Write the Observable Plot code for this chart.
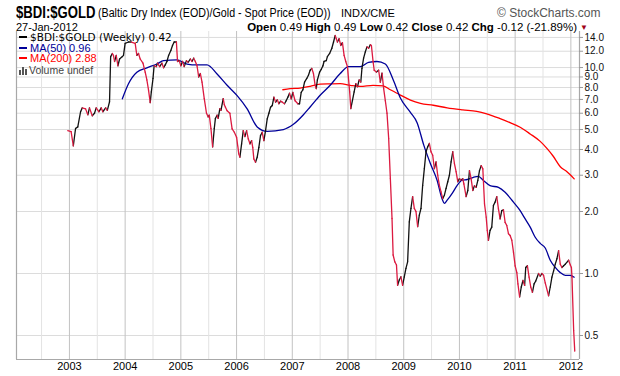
<!DOCTYPE html>
<html>
<head>
<meta charset="utf-8">
<script src="https://cdn.jsdelivr.net/npm/d3@7"></script>
<script src="https://cdn.jsdelivr.net/npm/@observablehq/plot@0.6"></script>
<style>
  html, body { margin: 0; padding: 0; background: #fff; }
  #wrap { position: relative; width: 620px; height: 376px; overflow: hidden; font-family: "Liberation Sans", Arial, sans-serif; color: #000; }
  .abs { position: absolute; white-space: nowrap; }
  .sym { font-weight: bold; font-size: 16px; line-height: 18px; display: block; transform: scaleX(0.82); transform-origin: left center; }
  .desc { font-size: 12px; line-height: 14px; display: block; transform: scaleX(0.89); transform-origin: left center; }
  .leg { font-size: 10.5px; line-height: 10px; height: 10px; }
  .dash { display: inline-block; width: 8px; height: 2px; vertical-align: middle; margin-right: 3px; position: relative; top: -1px; }
</style>
</head>
<body>
<div id="wrap">
  <div id="chart"></div>
  <div class="abs" style="left:16px;top:4px;height:18px;font-size:16px;line-height:18px;"><span class="sym">$BDI:$GOLD</span></div>
  <div class="abs" style="left:98px;top:6px;height:14px;font-size:12px;line-height:14px;"><span class="desc">(Baltic Dry Index (EOD)/Gold - Spot Price (EOD))</span></div>
  <div class="abs" style="left:341px;top:6px;font-size:11px;line-height:14px;height:14px;">INDX/CME</div>
  <div class="abs" style="left:497px;top:6px;font-size:12px;line-height:14px;height:14px;color:#555;">© StockCharts.com</div>
  <div class="abs" style="left:16px;top:21.5px;font-size:11px;line-height:10px;height:10px;">27-Jan-2012</div>
  <div class="abs" style="right:43px;top:21.5px;font-size:11.5px;line-height:10px;height:10px;"><b>Open</b> 0.49 <b>High</b> 0.49 <b>Low</b> 0.42 <b>Close</b> 0.42 <b>Chg</b> -0.12 (-21.89%)</div>
  <div class="abs" style="left:580px;top:23px;font-size:8px;line-height:9px;height:9px;color:#a00018;">▼</div>
  <div class="abs leg" style="left:19px;top:32px;font-family:'DejaVu Sans',sans-serif;"><span class="dash" style="background:#000"></span>$BDI:$GOLD (Weekly) 0.42</div>
  <div class="abs leg" style="left:19px;top:42.5px;color:#000099;font-size:11px;"><span class="dash" style="background:#000099"></span>MA(50) 0.96</div>
  <div class="abs leg" style="left:19px;top:53px;color:#ff0000;font-size:11px;"><span class="dash" style="background:#ff0000"></span>MA(200) 2.88</div>
  <div class="abs leg" style="left:19px;top:64.5px;color:#444;font-size:10.5px;"><span style="display:inline-block;width:8px;height:8px;position:relative;margin-right:2px;vertical-align:-1px;"><i style="position:absolute;left:0;bottom:0;width:2px;height:5px;background:#555"></i><i style="position:absolute;left:3px;bottom:0;width:2px;height:8px;background:#555"></i><i style="position:absolute;left:6px;bottom:0;width:2px;height:6px;background:#555"></i></span>Volume undef</div>
</div>
<script>
// ---- Data ----
const years = [2003, 2004, 2005, 2006, 2007, 2008, 2009, 2010, 2011, 2012];
const midYears = [2002.5, 2003.5, 2004.5, 2005.5, 2006.5, 2007.5, 2008.5, 2009.5, 2010.5, 2011.5];
const yTicks = [0.5, 1, 2, 3, 4, 5, 6, 7, 8, 9, 10, 12, 14];

const priceYear = [
  2002.97, 2003.03, 2003.07, 2003.11, 2003.15, 2003.20, 2003.23, 2003.29, 2003.33, 2003.36,
  2003.41, 2003.45, 2003.48, 2003.53, 2003.57, 2003.60, 2003.65, 2003.68, 2003.72, 2003.74,
  2003.77, 2003.79, 2003.81, 2003.84, 2003.87, 2003.90, 2003.95, 2003.97, 2004.00, 2004.06,
  2004.11, 2004.18, 2004.21, 2004.24, 2004.27, 2004.32, 2004.36, 2004.39, 2004.42, 2004.45,
  2004.47, 2004.50, 2004.52, 2004.56, 2004.58, 2004.62, 2004.66, 2004.69, 2004.72, 2004.75,
  2004.78, 2004.82, 2004.85, 2004.88, 2004.92, 2004.94, 2004.97, 2005.00, 2005.03, 2005.06,
  2005.10, 2005.13, 2005.17, 2005.20, 2005.23, 2005.26, 2005.29, 2005.32, 2005.35, 2005.38,
  2005.42, 2005.46, 2005.49, 2005.51, 2005.54, 2005.57, 2005.60, 2005.62, 2005.65, 2005.67,
  2005.70, 2005.72, 2005.76, 2005.78, 2005.80, 2005.83, 2005.88, 2005.92, 2005.96, 2006.00,
  2006.04, 2006.06, 2006.09, 2006.12, 2006.15, 2006.18, 2006.21, 2006.24, 2006.27, 2006.29,
  2006.31, 2006.34, 2006.37, 2006.40, 2006.43, 2006.46, 2006.49, 2006.52, 2006.55, 2006.58,
  2006.61, 2006.64, 2006.67, 2006.70, 2006.73, 2006.76, 2006.79, 2006.82, 2006.86, 2006.89,
  2006.92, 2006.95, 2006.98, 2007.01, 2007.05, 2007.10, 2007.13, 2007.16, 2007.19, 2007.22,
  2007.26, 2007.29, 2007.32, 2007.35, 2007.38, 2007.41, 2007.43, 2007.45, 2007.49, 2007.52,
  2007.55, 2007.57, 2007.61, 2007.63, 2007.67, 2007.71, 2007.74, 2007.77, 2007.79, 2007.81,
  2007.84, 2007.87, 2007.90, 2007.93, 2007.96, 2007.99, 2008.03, 2008.05, 2008.08, 2008.11,
  2008.14, 2008.17, 2008.20, 2008.23, 2008.25, 2008.28, 2008.31, 2008.34, 2008.37, 2008.40,
  2008.42, 2008.45, 2008.47, 2008.51, 2008.55, 2008.58, 2008.61, 2008.64, 2008.67, 2008.70,
  2008.73, 2008.76, 2008.79, 2008.81, 2008.84, 2008.87, 2008.89, 2008.92, 2008.95, 2008.98,
  2009.01, 2009.04, 2009.07, 2009.10, 2009.13, 2009.16, 2009.19, 2009.22, 2009.25, 2009.28,
  2009.31, 2009.34, 2009.37, 2009.40, 2009.43, 2009.46, 2009.49, 2009.52, 2009.55, 2009.58,
  2009.61, 2009.64, 2009.67, 2009.70, 2009.73, 2009.76, 2009.79, 2009.82, 2009.85, 2009.88,
  2009.91, 2009.94, 2009.97, 2010.00, 2010.03, 2010.06, 2010.08, 2010.12, 2010.15, 2010.18,
  2010.21, 2010.24, 2010.27, 2010.30, 2010.33, 2010.36, 2010.39, 2010.42, 2010.45, 2010.48,
  2010.50, 2010.52, 2010.55, 2010.58, 2010.61, 2010.64, 2010.67, 2010.70, 2010.73, 2010.76,
  2010.79, 2010.82, 2010.85, 2010.88, 2010.91, 2010.94, 2010.97, 2011.00, 2011.03, 2011.05,
  2011.08, 2011.11, 2011.14, 2011.17, 2011.19, 2011.22, 2011.25, 2011.28, 2011.31, 2011.34,
  2011.37, 2011.42, 2011.45, 2011.48, 2011.51, 2011.54, 2011.60, 2011.63, 2011.66, 2011.69,
  2011.72, 2011.75, 2011.78, 2011.81, 2011.84, 2011.87, 2011.90, 2011.96, 2011.99, 2012.01,
  2012.02, 2012.05, 2012.07
];
const priceValue = [
  4.94, 4.88, 4.17, 5.06, 5.15, 6.10, 6.37, 6.30, 5.90, 6.37,
  5.83, 6.00, 6.37, 6.10, 6.37, 6.10, 6.37, 6.20, 6.82, 11.3,
  11.7, 11.45, 10.7, 11.45, 10.2, 11.0, 11.3, 11.45, 13.1, 13.3,
  13.3, 13.1, 11.45, 11.7, 11.0, 10.5, 9.5, 8.7, 7.76, 6.76,
  7.62, 8.85, 10.2, 10.1, 10.5, 10.1, 10.5, 9.97, 10.3, 10.7,
  11.45, 12.1, 12.8, 13.3, 13.3, 10.7, 10.8, 10.2, 10.7, 10.1,
  10.8, 10.6, 11.0, 10.7, 11.1, 10.7, 10.2, 9.0, 9.35, 8.5,
  7.07, 6.0, 5.76, 5.87, 5.06, 4.12, 5.06, 5.66, 5.87, 5.66,
  6.32, 6.2, 7.07, 6.6, 6.42, 6.17, 6.0, 5.04, 4.85, 4.59,
  3.81, 3.67, 4.26, 4.94, 4.62, 4.94, 4.51, 4.26, 4.42, 4.1,
  3.6, 3.47, 3.67, 4.1, 4.68, 4.85, 4.42, 4.94, 5.63, 6.0,
  6.42, 6.54, 7.18, 6.79, 6.97, 6.67, 6.87, 6.79, 6.67, 6.9,
  7.18, 7.5, 7.05, 7.58, 6.9, 6.67, 6.67, 7.58, 7.8, 8.5,
  8.85, 9.18, 9.7, 9.9, 9.35, 8.2, 7.9, 8.7, 9.5, 9.8,
  10.2, 10.7, 10.8, 11.3, 11.7, 12.4, 13.3, 14.3, 13.8, 13.3,
  13.8, 12.8, 13.2, 11.45, 10.7, 10.1, 7.62, 6.32, 6.93, 7.62,
  8.36, 8.07, 8.7, 8.5, 9.9, 11.1, 11.9, 12.6, 12.4, 12.9,
  12.8, 10.7, 9.7, 9.5, 9.7, 8.5, 9.4, 7.9, 6.9, 6.0,
  4.52, 2.89, 1.85, 1.23, 1.14, 1.10, 0.877, 0.93, 0.964, 0.877,
  0.964, 1.06, 1.14, 1.78, 2.07, 2.36, 2.07, 2.0, 1.69, 1.92,
  2.07, 2.68, 3.23, 3.9, 4.12, 4.28, 3.9, 3.75, 3.23, 3.48,
  3.0, 2.68, 2.49, 2.31, 2.4, 2.59, 2.79, 3.0, 3.48, 3.9,
  3.42, 3.12, 2.79, 2.89, 2.84, 2.89, 2.72, 2.36, 2.53, 3.16,
  2.88, 2.53, 2.67, 2.62, 2.83, 3.16, 3.34, 3.22, 2.18, 1.88,
  1.62, 1.45, 1.62, 1.68, 2.14, 2.22, 2.36, 2.06, 1.84, 2.02,
  2.04, 1.77, 1.71, 1.56, 1.53, 1.45, 1.27, 1.09, 1.01, 0.89,
  0.77, 0.86, 0.925, 0.875, 1.07, 1.09, 0.96, 0.86, 0.81, 0.89,
  0.92, 1.0, 0.97, 1.0, 0.98, 0.9, 0.78, 0.86, 0.96, 1.03,
  1.11, 1.18, 1.29, 1.11, 1.07, 1.09, 1.11, 1.16, 1.1, 1.07,
  0.96, 0.53, 0.42
];

const ma50Year = [
  2003.95, 2004.06, 2004.21, 2004.39, 2004.57, 2004.69, 2004.93, 2005.11, 2005.29, 2005.47,
  2005.65, 2005.83, 2006.01, 2006.19, 2006.37, 2006.55, 2006.84, 2007.02, 2007.20, 2007.32,
  2007.50, 2007.68, 2007.86, 2008.01, 2008.22, 2008.37, 2008.52, 2008.67, 2008.82, 2008.94,
  2009.12, 2009.24, 2009.36, 2009.48, 2009.60, 2009.69, 2009.73, 2009.78, 2009.87, 2009.96,
  2010.05, 2010.14, 2010.25, 2010.34, 2010.43, 2010.55, 2010.70, 2010.82, 2010.97, 2011.09,
  2011.18, 2011.27, 2011.36, 2011.45, 2011.54, 2011.63, 2011.72, 2011.81, 2011.90, 2011.99,
  2012.06
];
const ma50Value = [
  7.05, 8.34, 9.49, 9.97, 10.4, 10.8, 10.9, 10.4, 10.3, 10.3,
  9.3, 8.2, 7.3, 6.3, 5.15, 4.9, 5.0, 5.3, 5.9, 6.43,
  7.34, 8.2, 9.35, 10.1, 10.1, 10.6, 10.7, 10.4, 8.6, 7.12,
  6.06, 5.4, 4.2, 3.41, 2.83, 2.3, 2.19, 2.27, 2.45, 2.68,
  2.84, 2.86, 2.93, 2.96, 2.83, 2.67, 2.62, 2.48, 2.22, 2.02,
  1.84, 1.68, 1.5, 1.4, 1.33, 1.16, 1.07, 1.01, 0.98, 0.98,
  0.96
];

const ma200Year = [
  2006.83, 2006.96, 2007.14, 2007.32, 2007.50, 2007.68, 2007.86, 2008.04, 2008.22, 2008.45,
  2008.63, 2008.76, 2008.94, 2009.12, 2009.30, 2009.53, 2009.78, 2010.06, 2010.31, 2010.49,
  2010.73, 2010.91, 2011.09, 2011.27, 2011.45, 2011.57, 2011.68, 2011.81, 2011.93, 2012.06
];
const ma200Value = [
  7.8, 7.9, 7.95, 8.1, 8.3, 8.33, 8.35, 8.2, 8.1, 8.2,
  8.15, 7.8, 7.35, 6.95, 6.7, 6.56, 6.37, 6.23, 6.13, 5.96,
  5.65, 5.4, 5.13, 4.76, 4.38, 4.05, 3.72, 3.3, 3.12, 2.88
];

// ---- Build tables for the library ----
const xDomain = [2002.05, 2012.155];
const yDomain = [0.3824, 14.96];
const segs = priceYear.slice(1).map((x2, i) => ({
  x1: priceYear[i], y1: priceValue[i], x2, y2: priceValue[i + 1]
}));
const ma50 = ma50Year.map((x, i) => ({x, y: ma50Value[i]}));
const ma200 = ma200Year.map((x, i) => ({x, y: ma200Value[i]}));
const yTickRows = yTicks.map(v => ({v, label: d3.format(".1f")(v)}));

const chart = Plot.plot({
  width: 620,
  height: 376,
  marginLeft: 16,
  marginRight: 41,
  marginTop: 31,
  marginBottom: 17,
  style: {fontFamily: "'Liberation Sans', Arial, sans-serif", fontSize: "11px", background: "white", color: "#000", overflow: "visible"},
  x: {type: "linear", domain: xDomain, ticks: years, tickFormat: d => String(d), tickSize: 0, tickPadding: 3, label: null},
  y: {type: "log", domain: yDomain, axis: null},
  marks: [
    Plot.ruleY(yTickRows, {y: "v", stroke: "#dcdcdc", strokeOpacity: 1}),
    Plot.ruleX(midYears, {stroke: "#e3e3e3", strokeOpacity: 1}),
    Plot.ruleX(years, {stroke: "#c2c2c2", strokeOpacity: 1}),
    Plot.ruleX([xDomain[0], xDomain[1]], {stroke: "#a8a8a8", strokeWidth: 1.2}),
    Plot.ruleY([yDomain[0]], {stroke: "#a8a8a8", strokeWidth: 1.2}),
    Plot.ruleY(yTickRows, {y: "v", x1: xDomain[1], x2: xDomain[1], insetRight: -4, stroke: "#999", strokeOpacity: 1}),
    Plot.text(yTickRows, {y: "v", x: xDomain[1], text: "label", dx: 5, textAnchor: "start", fontSize: 10, fill: "#111"}),
    Plot.line(ma200, {x: "x", y: "y", stroke: "#ff0000", strokeWidth: 1.3, curve: "monotone-x"}),
    Plot.line(ma50, {x: "x", y: "y", stroke: "#000099", strokeWidth: 1.3, curve: "monotone-x"}),
    Plot.link(segs, {filter: d => d.y2 >= d.y1, x1: "x1", y1: "y1", x2: "x2", y2: "y2", stroke: "#111", strokeWidth: 1.3, strokeLinecap: "round"}),
    Plot.link(segs, {filter: d => d.y2 < d.y1, x1: "x1", y1: "y1", x2: "x2", y2: "y2", stroke: "#dc1a40", strokeWidth: 1.3, strokeLinecap: "round"})
  ]
});
document.getElementById("chart").appendChild(chart);
</script>
</body>
</html>
